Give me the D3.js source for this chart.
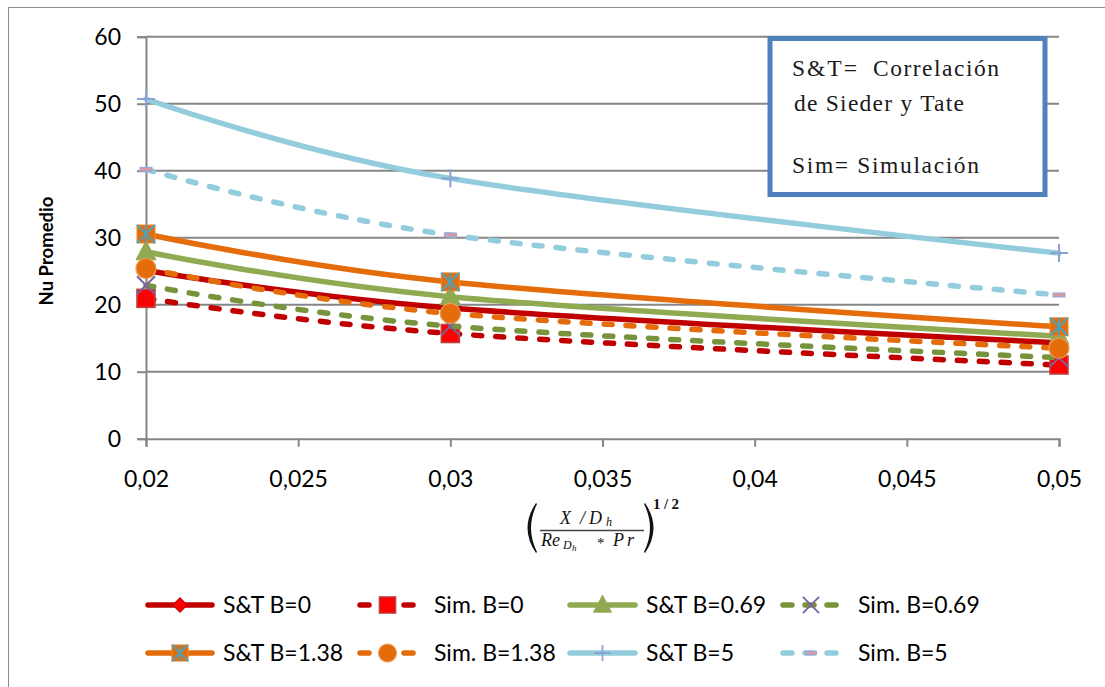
<!DOCTYPE html>
<html>
<head>
<meta charset="utf-8">
<script src="https://cdn.jsdelivr.net/npm/d3@7"></script>
<style>
  html, body { margin: 0; padding: 0; background: #fff; }
  svg { display: block; }
</style>
</head>
<body>
<svg id="chart" width="1105" height="687"></svg>
<script>
// Average Nusselt number vs. (X/Dh / (Re*Pr))^(1/2)
const categories = [0.02, 0.03, 0.05];

const stB0    = [25.1, 19.5, 14.3];
const simB0   = [20.95, 15.7, 11.0];
const stB069  = [27.9, 21.2, 15.3];
const simB069 = [22.9, 16.8, 12.1];
const stB138  = [30.55, 23.4, 16.7];
const simB138 = [25.4, 18.7, 13.5];
const stB5    = [50.7, 38.85, 27.7];
const simB5   = [40.2, 30.4, 21.45];

const seriesNames = ["S&T B=0", "Sim. B=0", "S&T B=0.69", "Sim. B=0.69",
                     "S&T B=1.38", "Sim. B=1.38", "S&T B=5", "Sim. B=5"];

const xTicks = [0.02, 0.025, 0.03, 0.035, 0.04, 0.045, 0.05];
const yTicks = [0, 10, 20, 30, 40, 50, 60];

const yTitle = "Nu Promedio";

// series styling
const styles = [
  { values: stB0,    color: "#C00000", dashed: false, marker: "diamond" },
  { values: simB0,   color: "#C00000", dashed: true,  marker: "square" },
  { values: stB069,  color: "#8FAA50", dashed: false, marker: "triangle" },
  { values: simB069, color: "#77933C", dashed: true,  marker: "x" },
  { values: stB138,  color: "#E46C0A", dashed: false, marker: "star" },
  { values: simB138, color: "#E46C0A", dashed: true,  marker: "circle" },
  { values: stB5,    color: "#93CDDD", dashed: false, marker: "plus" },
  { values: simB5,   color: "#93CDDD", dashed: true,  marker: "dash" }
];

const svg = d3.select("#chart");
const FONT = "Lato, 'Open Sans', sans-serif";

// outer frame of the chart area
svg.append("rect").attr("x", 8.5).attr("y", 7.5).attr("width", 1120).attr("height", 700)
  .attr("fill", "none").attr("stroke", "#8C8C8C").attr("stroke-width", 1);

const plot = { left: 146, right: 1059, top: 36.7, bottom: 438.7 };

const x = d3.scaleLinear().domain([0.02, 0.05]).range([plot.left, plot.right]);
const y = d3.scaleLinear().domain([0, 60]).range([plot.bottom, plot.top]);

const locale = d3.formatLocale({ decimal: ",", thousands: ".", grouping: [3], currency: ["", ""] });
const fmtX = v => locale.format("~g")(v);

const GRID = "#868686";

// horizontal gridlines
svg.append("g").selectAll("line").data(yTicks.filter(v => v > 0)).join("line")
  .attr("x1", plot.left).attr("x2", plot.right)
  .attr("y1", d => y(d)).attr("y2", d => y(d))
  .attr("stroke", GRID).attr("stroke-width", 2);

// y axis
const yAxis = svg.append("g").attr("transform", `translate(${plot.left},0)`)
  .call(d3.axisLeft(y).tickValues(yTicks).tickSize(9).tickPadding(16).tickFormat(d3.format("d")));
yAxis.select(".domain").attr("stroke", GRID).attr("stroke-width", 2);
yAxis.selectAll(".tick line").attr("stroke", GRID).attr("stroke-width", 2);
yAxis.selectAll(".tick text").attr("font-family", FONT).attr("font-size", 23).attr("fill", "#000");

// x axis
const xAxis = svg.append("g").attr("transform", `translate(0,${plot.bottom})`)
  .call(d3.axisBottom(x).tickValues(xTicks).tickSize(8).tickPadding(24).tickFormat(fmtX));
xAxis.select(".domain").attr("stroke", GRID).attr("stroke-width", 2);
xAxis.selectAll(".tick line").attr("stroke", GRID).attr("stroke-width", 2);
xAxis.selectAll(".tick text").attr("font-family", FONT).attr("font-size", 23).attr("fill", "#000");

// y axis title
svg.append("text").attr("transform", "translate(53,251) rotate(-90)")
  .attr("text-anchor", "middle").attr("font-family", FONT).attr("font-weight", 700)
  .attr("font-size", 18.5).attr("fill", "#000").text(yTitle);

// marker drawing
function drawMarker(g, type, cx, cy, s) {
  const k = s || 1;
  const m = g.append("g").attr("transform", `translate(${cx},${cy}) scale(${k})`);
  switch (type) {
    case "diamond":
      m.append("path").attr("d", "M0,-8L8,0L0,8L-8,0Z").attr("fill", "#FF0000")
        .attr("stroke", "#C00000").attr("stroke-width", 1.2);
      break;
    case "square":
      m.append("rect").attr("x", -9).attr("y", -9).attr("width", 18).attr("height", 18)
        .attr("fill", "#FF0000").attr("stroke", "#B84543").attr("stroke-width", 1.6);
      break;
    case "triangle":
      m.append("path").attr("d", "M0,-11L10,8L-10,8Z").attr("fill", "#8FAA50")
        .attr("stroke", "#8FAA50").attr("stroke-width", 1);
      break;
    case "x":
      m.append("path").attr("d", "M-9,-9L9,9M9,-9L-9,9").attr("stroke", "#7A62A0")
        .attr("stroke-width", 2).attr("fill", "none");
      break;
    case "star":
      m.append("rect").attr("x", -9).attr("y", -9).attr("width", 18).attr("height", 18)
        .attr("fill", "#E46C0A").attr("stroke", "#E88A3A").attr("stroke-width", 1);
      m.append("path").attr("d", "M-9,-9L9,9M9,-9L-9,9M0,-9L0,9").attr("stroke", "#4BA3BE")
        .attr("stroke-width", 2).attr("fill", "none");
      break;
    case "circle":
      m.append("circle").attr("r", 10).attr("fill", "#E46C0A")
        .attr("stroke", "#F09A55").attr("stroke-width", 1.2);
      break;
    case "plus":
      m.append("path").attr("d", "M-9,0L9,0M0,-9L0,9").attr("stroke", "#8AA2D4")
        .attr("stroke-width", 2).attr("fill", "none");
      break;
    case "dash":
      m.append("rect").attr("x", -6).attr("y", -2).attr("width", 12).attr("height", 4)
        .attr("fill", "#D89AA8").attr("stroke", "#8FA7D8").attr("stroke-width", 1);
      break;
  }
}

const line = d3.line()
  .x((d, i) => x(categories[i]))
  .y(d => y(d))
  .curve(d3.curveCardinal.tension(0));

const DASH = "8,14";

styles.forEach(s => {
  const g = svg.append("g");
  g.append("path").attr("d", line(s.values)).attr("fill", "none")
    .attr("stroke", s.color).attr("stroke-width", 5.5)
    .attr("stroke-linecap", "round").attr("stroke-linejoin", "round")
    .attr("stroke-dasharray", s.dashed ? DASH : null);
  s.values.forEach((v, i) => drawMarker(g, s.marker, x(categories[i]), y(v)));
});

// annotation box
const note = svg.append("g");
note.append("rect").attr("x", 770).attr("y", 38.5).attr("width", 275).attr("height", 156)
  .attr("fill", "#fff").attr("stroke", "#4F81BD").attr("stroke-width", 5);
const NOTE_FONT = "'Liberation Serif', 'Times New Roman', serif";
const notePieces = [
  { t: "S&T=",        x: 792, y: 76,  w: 65 },
  { t: "Correlación", x: 873, y: 76,  w: 126 },
  { t: "de Sieder y Tate", x: 794, y: 111, w: 170 },
  { t: "Sim= Simulación",  x: 792, y: 173, w: 187 }
];
notePieces.forEach(p => {
  note.append("text").attr("x", p.x).attr("y", p.y)
    .attr("font-family", NOTE_FONT).attr("font-size", 23.5)
    .attr("fill", "#1a1a1a").attr("textLength", p.w).attr("lengthAdjust", "spacing")
    .text(p.t);
});

// x axis title: (X/Dh / (Re_Dh * Pr))^(1/2)
const fx = svg.append("g").attr("fill", "#111");
const MATH = "'Liberation Serif', 'DejaVu Serif', serif";
// parentheses as filled crescents
fx.append("path").attr("d", "M536,503 Q519,528 536,553 L537,552 Q525,528 537,504 Z");
fx.append("path").attr("d", "M645,503 Q662,528 645,553 L644,552 Q656,528 644,504 Z");
fx.append("line").attr("x1", 540).attr("x2", 644).attr("y1", 530.5).attr("y2", 530.5)
  .attr("stroke", "#444").attr("stroke-width", 1.6);

function mathPiece(t, px, py, size, italic) {
  return fx.append("text").attr("x", px).attr("y", py)
    .attr("font-family", MATH).attr("font-style", italic === false ? "normal" : "italic")
    .attr("font-size", size).text(t);
}
// numerator
mathPiece("X", 560, 524, 18);
mathPiece("/", 580, 524, 18);
mathPiece("D", 589, 524, 18);
mathPiece("h", 606, 526, 12);
// denominator
mathPiece("Re", 541, 546, 18);
mathPiece("D", 563, 549, 12);
mathPiece("h", 572, 551, 9);
mathPiece("*", 597, 548, 15, false);
mathPiece("P", 613, 546, 18);
mathPiece("r", 627, 546, 18);
// exponent
fx.append("text").attr("x", 653).attr("y", 509).attr("font-family", MATH)
  .attr("font-weight", 700).attr("font-size", 15)
  .attr("textLength", 26).attr("lengthAdjust", "spacing").text("1/2");

// legend
const colStart = [145, 357, 567, 780];
const colEnd   = [215, 418, 638, 842];
const colText  = [223, 434, 646, 858];
const rowY     = [605, 653];
styles.forEach((s, i) => {
  const c = i % 4, r = Math.floor(i / 4);
  const g = svg.append("g");
  const x0 = colStart[c] + 3, x1 = colEnd[c] - 3, ly = rowY[r];
  g.append("line").attr("x1", x0).attr("x2", x1).attr("y1", ly).attr("y2", ly)
    .attr("stroke", s.color).attr("stroke-width", 5.5).attr("stroke-linecap", "round")
    .attr("stroke-dasharray", s.dashed ? "9,13" : null);
  drawMarker(g, s.marker, (colStart[c] + colEnd[c]) / 2, ly, 0.9);
  g.append("text").attr("x", colText[c]).attr("y", ly).attr("dy", "0.36em")
    .attr("font-family", FONT).attr("font-size", 23).attr("fill", "#000").text(seriesNames[i]);
});
</script>
</body>
</html>
